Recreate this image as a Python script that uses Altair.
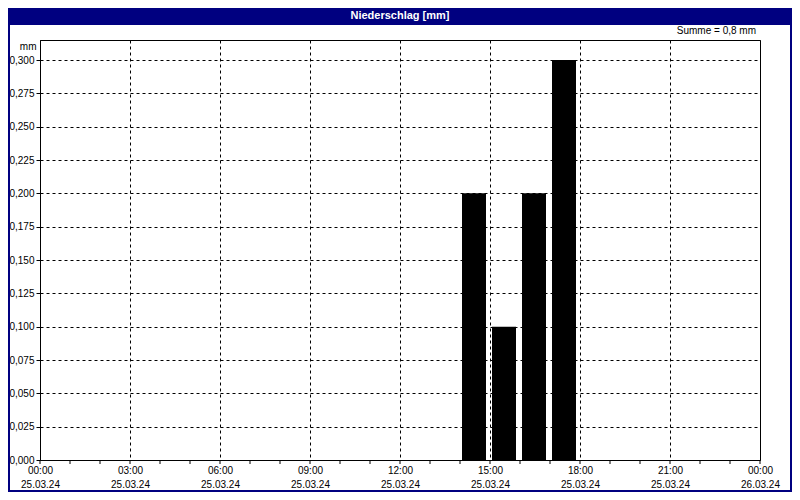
import altair as alt
import pandas as pd

# ---- data ----
day = "2024-03-25"
bar_hours = [14, 15, 16, 17]
bar_values = [0.2, 0.1, 0.2, 0.3]
y_tick_values = [0.0, 0.025, 0.05, 0.075, 0.1, 0.125, 0.15, 0.175, 0.2, 0.225, 0.25, 0.275, 0.3]
x_major_hours = [0, 3, 6, 9, 12, 15, 18, 21, 24]
x_minor_hours = list(range(0, 25))
title_text = "Niederschlag [mm]"
unit_text = "mm"

base_day = pd.Timestamp(day)
bars_df = pd.DataFrame({
    "t": [base_day + pd.Timedelta(hours=h, minutes=28) for h in bar_hours],
    "v": bar_values,
})
minor_df = pd.DataFrame({"t": [base_day + pd.Timedelta(hours=h) for h in x_minor_hours]})
summe = sum(bar_values)
summe_text = "Summe = " + f"{summe:.1f}".replace(".", ",") + " mm"


def dt(h):
    ts = base_day + pd.Timedelta(hours=h)
    return alt.DateTime(year=ts.year, month=ts.month, date=ts.day, hours=ts.hour, minutes=0)


FONT = "Liberation Sans"
W, H = 720, 420
PAD = 32

x_scale = alt.Scale(domain=[dt(0), dt(24)], padding=0)
y_scale = alt.Scale(domain=[0, 0.315], nice=False, padding=0)

x_axis = alt.Axis(
    values=[dt(h) for h in x_major_hours],
    labelExpr="[timeFormat(datum.value, '%H:%M'), timeFormat(datum.value, '%d.%m.%y')]",
    labelLineHeight=14,
    labelPadding=5,
    ticks=False,
    grid=True,
    gridColor="black",
    gridDash=[3, 3],
    gridOpacity=1,
    domainColor="black",
    labelColor="black",
    labelFont=FONT,
    labelFontSize=10,
    labelOverlap=False,
    labelFlush=False,
    title=None,
)
y_axis = alt.Axis(
    values=y_tick_values,
    labelExpr="replace(format(datum.value, '.3f'), '.', ',')",
    tickSize=4,
    tickColor="black",
    labelPadding=2,
    grid=True,
    gridColor="black",
    gridDash=[3, 3],
    gridOpacity=1,
    domainColor="black",
    labelColor="black",
    labelFont=FONT,
    labelFontSize=10,
    title=unit_text,
    titleAngle=0,
    titleAlign="right",
    titleBaseline="middle",
    titleX=-4,
    titleY=6,
    titleFont=FONT,
    titleFontSize=10,
    titleFontWeight="normal",
    titleColor="black",
)

bars = alt.Chart(bars_df).mark_bar(color="black", size=24).encode(
    x=alt.X("t:T", scale=x_scale, axis=x_axis),
    y=alt.Y("v:Q", scale=y_scale, axis=y_axis),
)

minor = alt.Chart(minor_df).mark_rule(color="black", strokeWidth=1).encode(
    x=alt.X("t:T", scale=x_scale),
    y=alt.value(H),
    y2=alt.value(H + 4),
)

one = pd.DataFrame({"a": [0]})
title_bar = alt.Chart(one).mark_rect(color="#000080").encode(
    x=alt.value(-PAD), x2=alt.value(W + PAD), y=alt.value(-PAD), y2=alt.value(-15)
)
title = alt.Chart(one).mark_text(
    color="white", font=FONT, fontSize=11, fontWeight="bold", align="center", baseline="middle"
).encode(x=alt.value(W / 2), y=alt.value(-24), text=alt.value(title_text))
summe_mark = alt.Chart(one).mark_text(
    color="black", font=FONT, fontSize=10, align="right", baseline="middle"
).encode(x=alt.value(W - 4), y=alt.value(-9), text=alt.value(summe_text))
border = alt.Chart(one).mark_rect(filled=False, stroke="#000080", strokeWidth=2).encode(
    x=alt.value(-PAD + 1), x2=alt.value(W + PAD - 1), y=alt.value(-PAD + 1), y2=alt.value(H + PAD - 1)
)

chart = alt.layer(title_bar, bars, minor, title, summe_mark, border).properties(
    width=W,
    height=H,
    autosize=alt.AutoSizeParams(type="none"),
    padding={"left": PAD, "top": PAD, "right": PAD, "bottom": PAD},
    background="white",
).configure_view(stroke="black", strokeWidth=1, fill="white")

chart.save("out.html", embed_options={"renderer": "svg", "actions": False})
